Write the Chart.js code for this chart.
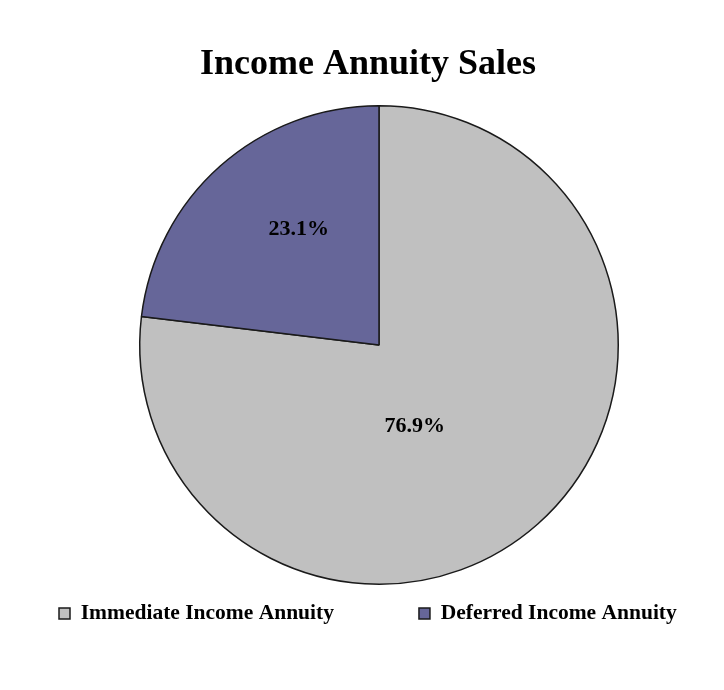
<!DOCTYPE html>
<html>
<head>
<meta charset="utf-8">
<script src="https://cdn.jsdelivr.net/npm/chart.js@4/dist/chart.umd.min.js"></script>
<style>
  html, body { margin: 0; padding: 0; background: #ffffff; }
  #wrap { width: 724px; height: 690px; }
</style>
</head>
<body>
<div id="wrap"><canvas id="c" width="724" height="690"></canvas></div>
<script>
// ---- data ----
const chartTitle = 'Income Annuity Sales';
const categories = ['Immediate Income Annuity', 'Deferred Income Annuity'];
const shares = [76.9, 23.1];
const valueLabels = ['76.9%', '23.1%'];

// ---- style ----
const sliceColors = ['#c0c0c0', '#666699'];
const serif = "'Liberation Serif', 'Times New Roman', serif";
// label placement per slice: angular shift from slice middle (deg) and radius fraction
const labelPlacement = [
  { shift: 17.9, frac: 0.373 },
  { shift: 6.9, frac: 0.59 }
];

const layoutFix = {
  id: 'layoutFix',
  afterLayout(chart) {
    const a = chart.chartArea;
    a.left = 139; a.right = 619; a.top = 105; a.bottom = 585;
    a.width = 480; a.height = 480;
    const tb = chart.titleBlock;
    if (tb) {
      tb.left = 6; tb.right = 724 + 6; tb.width = 724;
    }
    const lg = chart.legend;
    if (lg) {
      const h = lg.height;
      const pad = lg.options.labels.padding;
      const fs = lg.options.labels.font.size;
      lg.top = 613.5 - pad - fs / 2;
      lg.bottom = lg.top + h;
      lg.left = 59 - pad; lg.right = 900;
      lg.width = lg.right - lg.left;
    }
  }
};

const sliceLabels = {
  id: 'sliceLabels',
  afterDatasetsDraw(chart) {
    const ctx = chart.ctx;
    const meta = chart.getDatasetMeta(0);
    ctx.save();
    ctx.font = "bold 22px " + serif;
    ctx.fillStyle = '#000';
    ctx.textAlign = 'center';
    ctx.textBaseline = 'middle';
    meta.data.forEach((arc, i) => {
      const p = arc.getProps(['x', 'y', 'startAngle', 'endAngle', 'outerRadius'], true);
      const mid = (p.startAngle + p.endAngle) / 2 + labelPlacement[i].shift * Math.PI / 180;
      const r = p.outerRadius * labelPlacement[i].frac;
      ctx.fillText(valueLabels[i], p.x + Math.cos(mid) * r, p.y + Math.sin(mid) * r);
    });
    ctx.restore();
  }
};

new Chart(document.getElementById('c'), {
  type: 'pie',
  data: {
    labels: categories,
    datasets: [{
      data: shares,
      backgroundColor: sliceColors,
      borderColor: '#1a1a1a',
      borderWidth: 1.5
    }]
  },
  options: {
    responsive: false,
    animation: false,
    events: [],
    plugins: {
      title: {
        display: true,
        text: chartTitle,
        color: '#000',
        font: { family: serif, size: 36, weight: 'bold', lineHeight: 1.2 },
        padding: { top: 43, bottom: 0 }
      },
      legend: {
        display: true,
        position: 'bottom',
        align: 'start',
        labels: {
          color: '#000',
          font: { family: serif, size: 21.5, weight: 'bold' },
          boxWidth: 11,
          boxHeight: 11,
          padding: 85
        }
      },
      tooltip: { enabled: false }
    }
  },
  plugins: [layoutFix, sliceLabels]
});
</script>
</body>
</html>
